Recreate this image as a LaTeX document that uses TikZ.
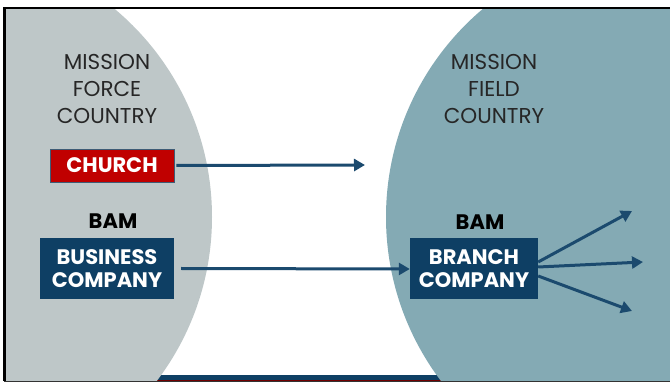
\documentclass[tikz,border=0pt]{standalone}
\usepackage{fontspec}
\setmainfont{Poppins}
\usepackage{tikz}
\usetikzlibrary{positioning}
\usetikzlibrary{shapes,arrows,calc,arrows.meta}

\definecolor{forcegray}{RGB}{190,199,200}
\definecolor{fieldteal}{RGB}{132,170,180}
\definecolor{boxblue}{RGB}{14,63,100}
\definecolor{arrowblue}{RGB}{27,74,110}
\definecolor{churchred}{RGB}{192,0,0}
\definecolor{edgeblue}{RGB}{62,92,118}

\tikzset{
  title/.style={align=center, text=black!85, font=\fontsize{21.5}{27}\selectfont},
  bam/.style={font=\bfseries\fontsize{21}{24}\selectfont, inner sep=0pt},
  redbox/.style={rectangle, fill=churchred, draw=edgeblue, line width=0.8pt,
    text=white, font=\bfseries\fontsize{21}{24}\selectfont,
    minimum width=124pt, minimum height=33pt, inner sep=0pt},
  bluebox/.style={rectangle, fill=boxblue, text=white, align=center,
    font=\bfseries\fontsize{21}{23}\selectfont,
    minimum height=61pt, inner sep=0pt},
  flow/.style={arrowblue, line width=3pt, -{Triangle[length=11pt,width=12pt]}}
}

\begin{document}
\begin{tikzpicture}[x=1pt, y=-1pt, node distance=9pt]
    \useasboundingbox (0,0) rectangle (670,382);
    % Background
    \fill[boxblue] (4,375) rectangle (670,380);
    \draw[churchred!60!black, line width=1pt] (4,380.5) -- (670,380.5);
    \begin{scope}
      \clip (4,8) rectangle (670,381);
      \fill[forcegray] (-59,217) circle[radius=271pt];
      \fill[fieldteal] (658,217) circle[radius=272pt];
    \end{scope}
    \draw[black, line width=2.5pt] (3,8) -- (670,8);
    \draw[black, line width=2.5pt] (4.5,8) -- (4.5,381);
    \draw[black!80, line width=1.2pt] (4,381.4) -- (670,381.4);

    % Nodes
    \node [title] (force) at (107,89) {MISSION\\FORCE\\COUNTRY};
    \node [title] (field) at (494,89) {MISSION\\FIELD\\COUNTRY};

    \node [redbox] (church) at (112,165.5) {CHURCH};
    \node [bluebox, minimum width=134pt] (business) at (107,268.5) {BUSINESS\\COMPANY};
    \node [bluebox, minimum width=128pt] (branch) at (474,269) {BRANCH\\COMPANY};

    \node [bam, above=of business, xshift=6pt] (bamforce) {BAM};
    \node [bam, above=of branch, xshift=6pt] (bamfield) {BAM};

    \coordinate (churchend) at (365,165);
    \coordinate (up) at (632,211);
    \coordinate (ahead) at (643,262);
    \coordinate (down) at (632,311);

    % Arrows
    \draw [flow] ([xshift=2pt]church.east) -- (churchend);
    \draw [flow] ([xshift=7pt]business.east) -- (branch.west);
    \draw [flow] ([yshift=7pt]branch.east) -- (up);
    \draw [flow] ([yshift=2pt]branch.east) -- (ahead);
    \draw [flow] ([yshift=-7pt]branch.east) -- (down);
\end{tikzpicture}
\end{document}
